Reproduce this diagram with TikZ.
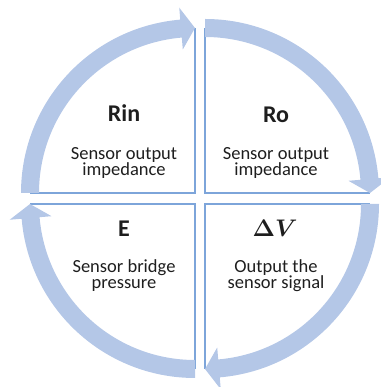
\RequirePackage{fix-cm}
\documentclass[tikz,border=0pt]{standalone}
\usepackage{amsmath}
\usepackage{fontspec}
\setmainfont{Carlito}
\definecolor{arrowblue}{RGB}{180,199,231}
\definecolor{lineblue}{RGB}{125,165,218}
\definecolor{txt}{RGB}{30,30,30}
\newcommand{\cyclearrow}[2]{%
  \begin{scope}[shift={#1},rotate=#2]
    \fill[arrowblue] (180:174) arc[start angle=180,end angle=94.86,radius=174]
      -- (94.86:186) -- (90:165) -- (94.86:144) -- (94.86:156)
      arc[start angle=94.86,end angle=180,radius=156] -- cycle;
  \end{scope}}
\tikzset{
  edgeline/.style={draw=lineblue,line width=1.3pt},
  titletext/.style={text=txt,font=\fontsize{24}{28}\selectfont\bfseries,anchor=base,inner sep=0pt},
  bodytext/.style={text=txt,font=\fontsize{18.5}{20}\selectfont,anchor=base,inner sep=0pt}
}
\begin{document}
\begin{tikzpicture}[x=1pt,y=1pt]
\useasboundingbox (0,0) rectangle (380,387);
% quadrant corners
\coordinate (ctl) at (195,194);
\coordinate (ctr) at (205,194);
\coordinate (cbr) at (205,183);
\coordinate (cbl) at (195,183);
% straight edges
\draw[edgeline] (195,359) -- (ctl) -- (30,194);
\draw[edgeline] (205,359) -- (ctr) -- (370,194);
\draw[edgeline] (370,183) -- (cbr) -- (205,18);
\draw[edgeline] (195,18) -- (cbl) -- (30,183);
% circular arrows
\cyclearrow{(ctl)}{0}
\cyclearrow{(ctr)}{-90}
\cyclearrow{(cbr)}{-180}
\cyclearrow{(cbl)}{-270}
% texts
\node[titletext] (rin) at (124,265) {Rin};
\node[bodytext] (rin1) at (124,227) {Sensor output};
\node[bodytext] (rin2) at (124,211) {impedance};
\node[titletext] (ro) at (276,264) {Ro};
\node[bodytext] (ro1) at (276,227) {Sensor output};
\node[bodytext] (ro2) at (276,211) {impedance};
\node[titletext] (e) at (124,150) {E};
\node[bodytext] (e1) at (124,114) {Sensor bridge};
\node[bodytext] (e2) at (124,98) {pressure};
\node[titletext] (dv) at (275,150) {$\boldsymbol{\Delta V}$};
\node[bodytext] (dv1) at (276,114) {Output the};
\node[bodytext] (dv2) at (276,98) {sensor signal};
\end{tikzpicture}
\end{document}
